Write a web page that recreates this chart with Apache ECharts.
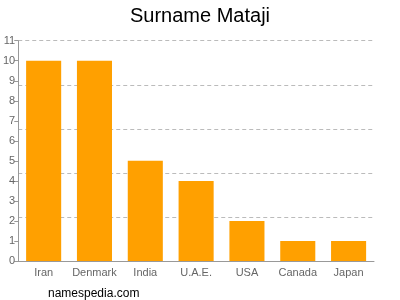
<!DOCTYPE html>
<html><head><meta charset="utf-8">
<script src="https://cdn.jsdelivr.net/npm/echarts@6/dist/echarts.min.js"></script>
<style>html,body{margin:0;padding:0;background:#fff}#c{width:400px;height:300px}</style>
</head><body><div id="c"></div>
<script>
var categories = ["Iran", "Denmark", "India", "U.A.E.", "USA", "Canada", "Japan"];
var counts = [10, 10, 5, 4, 2, 1, 1];
var yMax = 11;
var gridStep = 2.2;

var chart = echarts.init(document.getElementById('c'));
chart.setOption({
  animation: false,
  title: [{
    text: 'Surname Mataji', left: 'center', top: 1,
    textStyle: {fontFamily: 'Arial', fontSize: 20, fontWeight: 'normal', color: '#000'}
  }, {
    text: 'namespedia.com', left: 43, top: 283,
    textStyle: {fontFamily: 'Arial', fontSize: 12, fontWeight: 'normal', color: '#000'}
  }],
  grid: {left: 17, right: 26, top: 40.7, bottom: 39, containLabel: false},
  xAxis: {
    type: 'category', data: categories,
    axisLine: {lineStyle: {color: '#999'}},
    axisTick: {alignWithLabel: true, length: 4, lineStyle: {color: '#999'}},
    axisLabel: {color: '#666', fontFamily: 'Arial', fontSize: 11, margin: 6, interval: 0}
  },
  yAxis: [{
    type: 'value', min: 0, max: yMax, interval: 1,
    axisLine: {show: true, lineStyle: {color: '#999'}},
    axisTick: {show: true, length: 4, lineStyle: {color: '#999'}},
    axisLabel: {color: '#666', fontFamily: 'Arial', fontSize: 11, margin: 3},
    splitLine: {show: false}
  }, {
    type: 'value', min: 0, max: yMax, interval: gridStep, position: 'left',
    axisLine: {show: false}, axisTick: {show: false}, axisLabel: {show: false},
    splitLine: {show: true, lineStyle: {color: '#bbb', type: [4, 3]}}
  }],
  series: [{
    type: 'bar', data: counts, barWidth: '69%', yAxisIndex: 0,
    itemStyle: {color: '#FFA000'}
  }]
});
</script></body></html>
